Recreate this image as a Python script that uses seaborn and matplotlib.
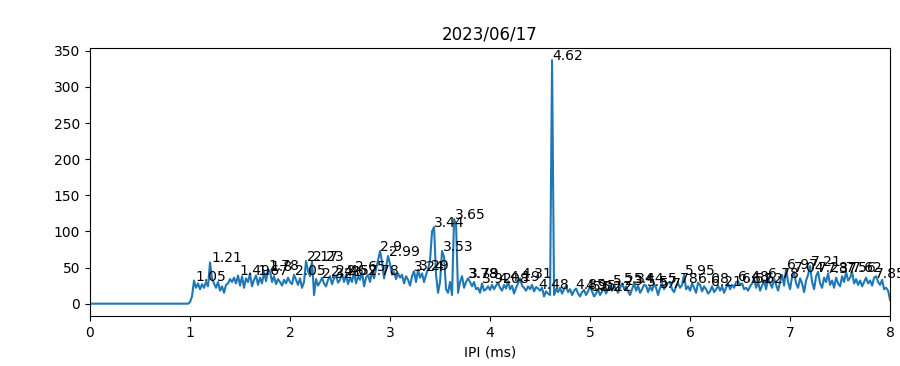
import numpy as np
import pandas as pd
import seaborn as sns
import matplotlib.pyplot as plt

# sinyal IPI, sampel tiap 0.02 ms dari 0.00 sampai 8.00
ipi_step = 0.02
nilai_awal = [0, 0, 0, 0, 0, 0, 0, 0, 0, 0, 0, 0, 0, 0, 0, 0, 0, 0, 0, 0, 0, 0, 0, 0, 0,
              0, 0, 0, 0, 0, 0, 0, 0, 0, 0, 0, 0, 0, 0, 0, 0, 0, 0, 0, 0, 0, 0, 0, 0, 0]
nilai_sinyal = [
    2, 10, 32, 22, 28,   20, 27, 22, 30, 24,   57, 35, 28, 22, 30,   18, 24, 15, 26, 28,
    34, 30, 36, 28, 39,   25, 38, 22, 35, 30,   42, 24, 33, 39, 26,   36, 28, 44, 31, 47,
    45, 30, 38, 27, 34,   30, 25, 33, 28, 36,   30, 27, 40, 33, 26,   35, 22, 30, 59, 45,
    38, 59, 12, 34, 25,   30, 36, 28, 24, 33,   38, 27, 35, 39, 29,   33, 42, 30, 40, 27,
    36, 30, 45, 28, 38,   33, 44, 24, 36, 40,   30, 45, 35, 48, 60,   73, 58, 35, 50, 66,
    55, 40, 44, 34, 42,   36, 40, 28, 38, 33,   25, 38, 45, 30, 47,   36, 42, 30, 40, 48,
    60, 100, 106, 40, 15, 30, 73, 65, 20, 15,  30, 12, 117, 110, 15, 30, 38, 22, 30, 35,
    30, 24, 30, 20, 22,   15, 28, 18, 20, 24,   19, 26, 20, 25, 29,   22, 18, 26, 21, 31,
    20, 25, 14, 22, 28,   35, 25, 22, 18, 24,   20, 26, 17, 23, 21,   18, 22, 10, 17, 14,
    12, 337, 12, 20, 16,  22, 14, 20, 25, 16,   20, 12, 18, 21, 14,   10, 16, 19, 12, 17,
    24, 17, 10, 14, 20,   12, 17, 22, 14, 20,   25, 18, 26, 20, 15,   22, 28, 20, 24, 17,
    12, 20, 28, 18, 25,   15, 20, 26, 25, 16,   24, 18, 28, 22, 12,   22, 28, 20, 25, 29,
    30, 20, 16, 24, 28,   22, 26, 40, 20, 24,   18, 28, 22, 15, 29,   26, 17, 24, 20, 14,
    17, 24, 16, 20, 25,   18, 24, 15, 22, 28,   20, 26, 22, 30, 31,   26, 28, 20, 22, 18,
    24, 28, 35, 22, 30,   18, 25, 32, 20, 35,   28, 22, 35, 26, 18,   30, 40, 25, 48, 30,
    20, 38, 44, 28, 22,   35, 28, 16, 32, 40,   52, 30, 20, 38, 44,   28, 22, 36, 30, 42,
    26, 32, 22, 36, 28,   24, 38, 30, 44, 32,   36, 44, 28, 34, 26,   32, 24, 30, 36, 28,
    32, 25, 36, 38, 30,   26, 33, 20, 22, 18,   5,
]

# puncak yang diberi label
puncak_x = [1.05, 1.21, 1.49, 1.67, 1.78, 1.8, 2.05, 2.17, 2.23, 2.32, 2.41, 2.46,
            2.57, 2.65, 2.78, 2.9, 2.99, 3.24, 3.29, 3.44, 3.53, 3.65, 3.78, 3.79,
            3.92, 4.08, 4.19, 4.31, 4.48, 4.62, 4.85, 4.95, 5.02, 5.12, 5.23, 5.34,
            5.44, 5.57, 5.7, 5.78, 5.95, 6.08, 6.21, 6.48, 6.52, 6.62, 6.78, 6.97,
            7.04, 7.21, 7.28, 7.37, 7.56, 7.62, 7.85]
puncak_y = [31, 57, 39, 39, 47, 45, 40, 59, 59, 36, 38, 39,
            40, 45, 40, 73, 66, 45, 47, 106, 73, 117, 35, 35,
            28, 29, 31, 35, 21, 337, 21, 19, 17, 17, 26, 28,
            28, 25, 22, 29, 40, 29, 24, 31, 28, 28, 35, 48,
            44, 52, 44, 42, 44, 44, 36]

y = nilai_awal + nilai_sinyal
df = pd.DataFrame({'ipi': np.round(np.arange(len(y)) * ipi_step, 2), 'nilai': y})

fig, ax = plt.subplots(figsize=(9, 3.66), dpi=100)
sns.lineplot(data=df, x='ipi', y='nilai', ax=ax, color='#1f77b4', linewidth=1.5)

for px, py in zip(puncak_x, puncak_y):
    ax.text(px, py, str(px), fontsize=10)

ax.set_xlim(0, 8)
ax.set_xlabel("IPI (ms)")
ax.set_ylabel("")
ax.set_title("2023/06/17")

fig.subplots_adjust(left=0.1, right=0.989, top=0.869, bottom=0.137)
fig.savefig("out.png")
